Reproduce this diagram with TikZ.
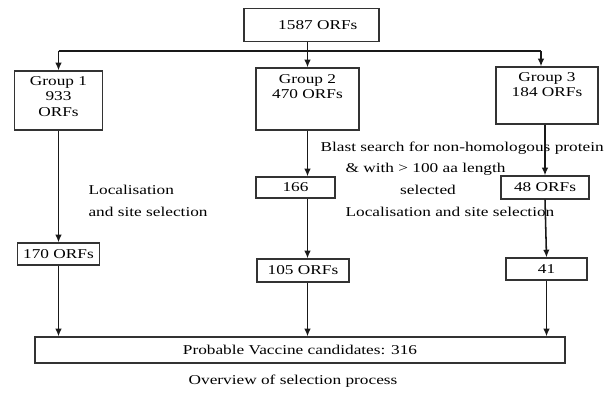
\documentclass[tikz,border=0pt]{standalone}
\usepackage{fontspec}
\setmainfont{Liberation Serif}[FakeStretch=1.28]
\usepackage{tikz}
\usetikzlibrary{arrows.meta,calc,positioning}
\def\pxu{0.025cm}

\begin{document}
\begin{tikzpicture}[
    x = \pxu, y = -\pxu,
    line width    = 0.8pt,
    node distance = 0mm,
    font = \fontsize{9.6}{10.7}\selectfont,
    bx/.style 2 args = { draw=black!80, inner sep=0pt,
                         minimum width=#1*\pxu, minimum height=#2*\pxu },
    lbl/.style  = { inner sep=0pt, align=center },
    note/.style = { inner sep=0pt, anchor=west },
    link/.style = { draw=black!90, line width=1.1pt,
                    -{Latex[length=5.5pt,width=4.6pt]} },
    bus line/.style = { draw=black!90, line width=1.1pt }
]
\useasboundingbox (0,0) rectangle (609,394);

% boxes
\node[bx={135}{33}]  (all) at (311.5,25) {\hspace*{9pt}1587 ORFs};
\node[bx={88}{59}]   (g1)  at (58.5,100.5) {};
\node[bx={103}{62}]  (g2)  at (307.5,99)   {};
\node[bx={102}{57}]  (g3)  at (547,95.5)   {};
\node[lbl, below=0.15cm of g1.north] {Group 1\\933\\ORFs};
\node[lbl, below=0.17cm of g2.north] {Group 2\\470 ORFs};
\node[lbl, below=0.15cm of g3.north] {Group 3\\184 ORFs};

\foreach \name/\cx/\cy/\w/\h/\txt in {
    o166/295.5/187.5/79/21/166,   o48/545/187.5/88/23/48 ORFs,
    o170/58.5/254/82/22/170 ORFs, o105/303/270.5/92/23/105 ORFs,
    o41/546.5/269/81/22/41}
  \node[bx={\w}{\h}] (\name) at (\cx,\cy) {\txt};

\node[bx={530}{26}] (vc) at (300,350) {Probable Vaccine candidates: 316};
\node[lbl] (cap) at (293,381) {Overview of selection process};

% side texts
\node[note] (loc1)  at (88,190)  {Localisation};
\node[note] (loc1b) at (88,212)  {and site selection};
\node[note] (blast) at (320,148) {Blast search for non-homologous protein};
\node[note] (len)   at (345,169) {\& with > 100 aa length};
\node[lbl]  (sel)   at (428,190) {selected};
\node[note] (loc2)  at (345,212) {Localisation and site selection};

% connectors
\coordinate (bus)  at (307.5,51);
\coordinate (g3in) at ($(g3.north)+(-6,0)$);
\draw[bus line] (bus -| g1.north) -- (bus -| g3in);
\draw[link] (all.south -| g2.north) -- (g2.north);
\draw[link] (bus -| g1.north) -- (g1.north);
\draw[link] (bus -| g3in) -- (g3in);

\draw[link] (g1.south) -- (o170.north);
\draw[link] (o170.south) -- (o170.south |- vc.north);

\draw[link] (g2.south) -- (g2.south |- o166.north);
\draw[link] (g2.south |- o166.south) -- (g2.south |- o105.north);
\draw[link] (g2.south |- o105.south) -- (g2.south |- vc.north);

\draw[link] (o48.north |- g3.south) -- (o48.north);
\draw[link] (o48.south) -- (o41.north);
\draw[link] (o41.south) -- (o41.south |- vc.north);

\end{tikzpicture}
\end{document}
